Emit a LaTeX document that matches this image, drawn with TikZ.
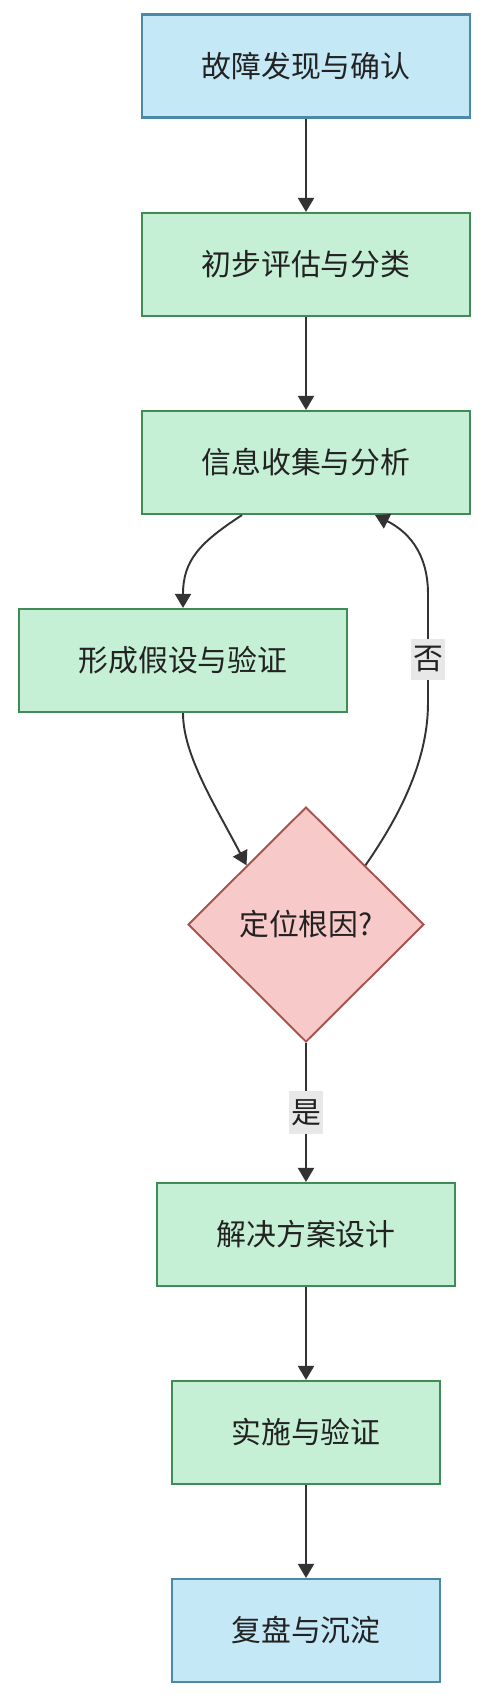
\documentclass[tikz,border=0pt]{standalone}
\usepackage{fontspec}
\setmainfont{Noto Sans CJK SC}
\usetikzlibrary{arrows.meta,positioning,shapes.geometric}
\definecolor{ink}{HTML}{222222}
\definecolor{edge}{HTML}{333333}
\definecolor{bluefill}{HTML}{C5E8F7}
\definecolor{blueline}{HTML}{4A8AA6}
\definecolor{greenfill}{HTML}{C6F0D6}
\definecolor{greenline}{HTML}{3F8C57}
\definecolor{redfill}{HTML}{F7CAC9}
\definecolor{redline}{HTML}{A8524F}
\definecolor{labelfill}{HTML}{E8E8E8}
\tikzset{
  >={Triangle[length=2.8mm,width=3.2mm]},
  flow/.style={->, draw=edge, line width=1.1pt},
  endbox/.style={draw=blueline, fill=bluefill, line width=1.2pt, minimum width=6.56cm, minimum height=2.06cm, inner sep=0pt},
  stepbox/.style={draw=greenline, fill=greenfill, line width=1.2pt, minimum width=6.56cm, minimum height=2.06cm, inner sep=0pt},
  decision/.style={diamond, draw=redline, fill=redfill, line width=1.1pt, minimum width=4.72cm, minimum height=4.70cm, inner sep=0pt},
  edgelabel/.style={fill=labelfill, inner xsep=1.2pt, inner ysep=4.5pt, text=ink},
}

\begin{document}
\begin{tikzpicture}[x=1cm,y=1cm, font=\fontsize{17}{20}\selectfont, text=ink]

\useasboundingbox (0,0) rectangle (9.88,-33.96);

% -----------------------------------------------------------------------------
% main column
% -----------------------------------------------------------------------------
\node[endbox] (find) at (6.12,-1.32) {故障发现与确认};
\node[stepbox] (assess) at (6.12,-5.29) {初步评估与分类};
\node[stepbox] (collect) at (6.12,-9.25) {信息收集与分析};
\node[stepbox] (hypo) at (3.66,-13.21) {形成假设与验证};
\node[decision] (root) at (6.12,-18.49) {定位根因?};
\node[stepbox, minimum width=5.96cm] (design) at (6.12,-24.69) {解决方案设计};
\node[stepbox, minimum width=5.36cm] (impl) at (6.12,-28.65) {实施与验证};
\node[endbox, minimum width=5.36cm] (review) at (6.12,-32.61) {复盘与沉淀};

% straight flow
\draw[flow] (find) -- (assess);
\draw[flow] (assess) -- (collect);
\draw[flow] (root) -- node[edgelabel] {是} (design);
\draw[flow] (design) -- (impl);
\draw[flow] (impl) -- (review);

% -----------------------------------------------------------------------------
% hypothesis loop
% -----------------------------------------------------------------------------
\draw[flow] ([xshift=-1.28cm]collect.south) .. controls (4.0,-10.85) and (3.66,-11.2) .. (hypo.north);
\draw[flow] (hypo.south) .. controls (3.66,-15.1) and (4.3,-16.1) .. (root.north west);
\draw[flow] (root.north east) .. controls (7.9,-16.45) and (8.56,-15.3) .. (8.56,-14.06)
  -- node[edgelabel, pos=0.4] {否} (8.56,-11.88)
  .. controls (8.56,-11.0) and (8.1,-10.6) .. ([xshift=1.38cm]collect.south);

\end{tikzpicture}
\end{document}
